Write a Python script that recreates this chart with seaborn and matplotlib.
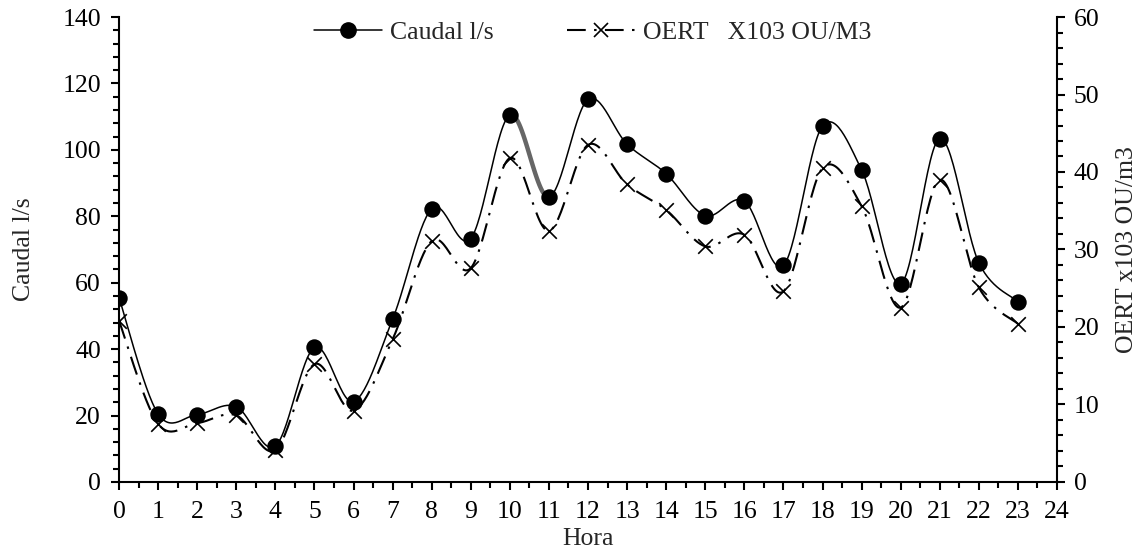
import numpy as np
import pandas as pd
import seaborn as sns
import matplotlib.pyplot as plt
from matplotlib.lines import Line2D
from matplotlib.ticker import MultipleLocator

# Data
hora = list(range(24))
caudal = [55.5, 20.5, 20.3, 22.7, 10.8, 40.5, 24.2, 49.0, 82.3, 73.3, 110.5, 85.8,
          115.2, 101.7, 92.8, 80.2, 84.6, 65.2, 107.2, 94.0, 59.7, 103.4, 66.0, 54.3]
oert = [20.8, 7.5, 7.6, 8.6, 4.1, 15.2, 9.2, 18.4, 31.1, 27.6, 41.8, 32.4,
        43.5, 38.4, 35.1, 30.4, 31.9, 24.6, 40.5, 35.6, 22.5, 39.0, 25.1, 20.4]


def smooth(x, y, n=30):
    # Excel-style smoothed line: cubic Bezier with Catmull-Rom control points
    x = np.asarray(x, float)
    y = np.asarray(y, float)
    px = np.concatenate([[x[0]], x, [x[-1]]])
    py = np.concatenate([[y[0]], y, [y[-1]]])
    t = np.linspace(0, 1, n)
    xs, ys = [], []
    for i in range(1, len(px) - 2):
        x0, x1, x2, x3 = px[i - 1], px[i], px[i + 1], px[i + 2]
        y0, y1, y2, y3 = py[i - 1], py[i], py[i + 1], py[i + 2]
        c1x, c1y = x1 + (x2 - x0) / 6, y1 + (y2 - y0) / 6
        c2x, c2y = x2 - (x3 - x1) / 6, y2 - (y3 - y1) / 6
        b = [(1 - t) ** 3, 3 * (1 - t) ** 2 * t, 3 * (1 - t) * t ** 2, t ** 3]
        xs.append(b[0] * x1 + b[1] * c1x + b[2] * c2x + b[3] * x2)
        ys.append(b[0] * y1 + b[1] * c1y + b[2] * c2y + b[3] * y2)
    return np.concatenate(xs), np.concatenate(ys)


sns.set_style("ticks")
plt.rcParams['font.family'] = ['Liberation Serif', 'DejaVu Serif']
plt.rcParams['font.size'] = 18

FS = 18.5

fig, ax = plt.subplots(figsize=(11.41, 5.54), dpi=100)
fig.subplots_adjust(left=0.1043, right=0.9264, top=0.9693, bottom=0.13)
ax2 = ax.twinx()

df = pd.DataFrame({"Hora": hora, "Caudal": caudal, "OERT": oert})

sx, sy = smooth(hora, caudal)
ax.plot(sx, sy, color='black', lw=1.1, zorder=3)
# highlighted segment 10-11
seg = (sx >= 10) & (sx <= 11)
ax.plot(sx[seg], sy[seg], color='#666666', lw=3.2, zorder=3.5, solid_capstyle='butt')
sns.scatterplot(data=df, x="Hora", y="Caudal", ax=ax, color='black', s=140,
                marker='o', edgecolor='black', linewidth=0, zorder=4, legend=False)

ox, oy = smooth(hora, oert)
ax2.plot(ox, oy, color='black', lw=1.5, dashes=(9, 4, 1.2, 4), zorder=3)
sns.scatterplot(data=df, x="Hora", y="OERT", ax=ax2, color='black', s=110,
                marker='x', linewidth=1.2, zorder=4, legend=False)

ax.set_xlim(0, 24)
ax.set_ylim(0, 140)
ax2.set_ylim(0, 60)
ax.xaxis.set_major_locator(MultipleLocator(1))
ax.xaxis.set_minor_locator(MultipleLocator(0.5))
ax.yaxis.set_major_locator(MultipleLocator(20))
ax.yaxis.set_minor_locator(MultipleLocator(4))
ax2.yaxis.set_major_locator(MultipleLocator(10))
ax2.yaxis.set_minor_locator(MultipleLocator(2))

for a in (ax, ax2):
    a.tick_params(which='major', direction='out', length=6, width=1.5, color='black',
                  labelsize=FS, labelcolor='black')
    a.tick_params(which='minor', direction='out', length=4, width=1.5, color='black')
    for s in a.spines.values():
        s.set_linewidth(1.5)
        s.set_color('black')
    a.spines['top'].set_visible(False)
    a.set_xlabel('')
    a.set_ylabel('')
ax.spines['right'].set_visible(False)
ax2.spines['left'].set_visible(False)
ax2.spines['bottom'].set_visible(False)
ax.tick_params(axis='x', pad=8)
ax.tick_params(axis='y', pad=7)
ax2.tick_params(axis='y', pad=6)

ax.set_xlabel("Hora", fontsize=FS, labelpad=3)
ax.set_ylabel("Caudal l/s", fontsize=FS, labelpad=20)
ax2.set_ylabel("OERT x103 OU/m3", fontsize=FS, labelpad=12)

handles = [
    Line2D([], [], color='black', lw=1.1, marker='o', markersize=11),
    Line2D([], [], color='black', lw=1.5, dashes=(9, 4, 1.2, 4), marker='x',
           markersize=10, markeredgewidth=1.2),
]
ax.legend(handles, ["Caudal l/s", "OERT   X103 OU/M3"], loc='center',
          bbox_to_anchor=(0.505, 0.967), ncol=2, frameon=False, fontsize=FS,
          handlelength=2.65, columnspacing=2.85, handletextpad=0.3)

fig.savefig("out.png", dpi=100)
